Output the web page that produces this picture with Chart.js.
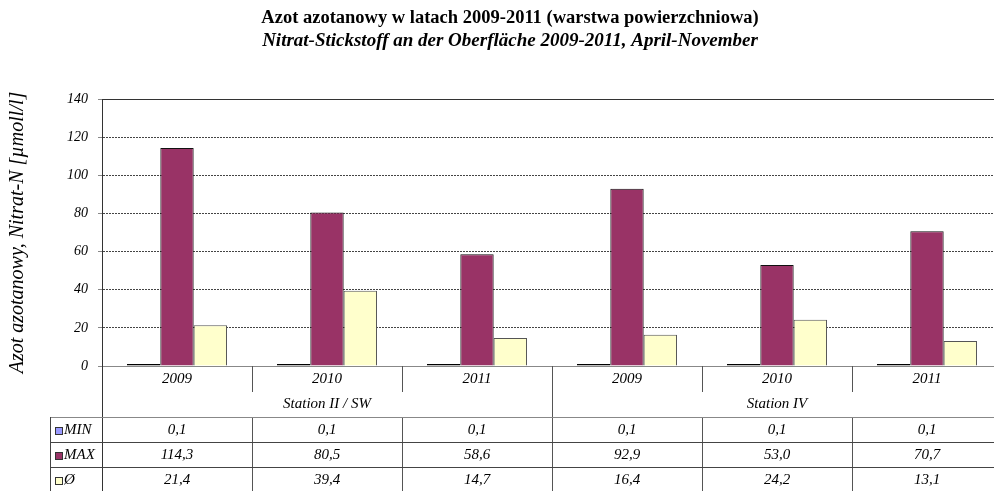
<!DOCTYPE html>
<html>
<head>
<meta charset="utf-8">
<script src="https://cdn.jsdelivr.net/npm/chart.js@4"></script>
<style>
    html, body { margin: 0; padding: 0; background: #fff; overflow: hidden; }
    #wrap { position: relative; width: 1020px; height: 491px; }
</style>
</head>
<body>
<div id="wrap"><canvas id="nitratChart"></canvas></div>
<script>
// Data
const years = ['2009', '2010', '2011', '2009', '2010', '2011'];
const stations = ['Station II / SW', 'Station IV'];
const minValues = [0.1, 0.1, 0.1, 0.1, 0.1, 0.1];
const maxValues = [114.3, 80.5, 58.6, 92.9, 53.0, 70.7];
const avgValues = [21.4, 39.4, 14.7, 16.4, 24.2, 13.1];
const seriesNames = ['MIN', 'MAX', 'Ø'];
const seriesColors = ['#9999FF', '#993366', '#FFFFCC'];
const yTicks = [0, 20, 40, 60, 80, 100, 120, 140];

const SERIF = '"Liberation Serif", "DejaVu Serif", serif';

// Row layout of the data table under the plot
const ROW_YEAR = 26;
const ROW_STATION = 25;
const ROW_DATA = 25;
const LEGEND_LEFT = 50;

function fmt(v) {
    return v.toFixed(1).replace('.', ',');
}

// Draws the frame, the year / station rows and the value table
const tablePlugin = {
    id: 'dataTable',
    afterDraw(chart) {
        const ctx = chart.ctx;
        const area = chart.chartArea;
        const x = chart.scales.x;
        const y = chart.scales.y;
        const n = years.length;
        const step = x.getPixelForValue(1) - x.getPixelForValue(0);
        const edge = i => x.getPixelForValue(0) - step / 2 + i * step;

        const yAxis = y.getPixelForValue(0);
        const yYear = yAxis + ROW_YEAR;
        const yStation = yYear + ROW_STATION;
        const bottom = chart.height;

        ctx.save();
        ctx.lineWidth = 1;

        // solid top of the plot
        ctx.strokeStyle = '#333';
        ctx.beginPath();
        ctx.moveTo(area.left, Math.round(y.getPixelForValue(140)) + 0.5);
        ctx.lineTo(area.right, Math.round(y.getPixelForValue(140)) + 0.5);
        ctx.stroke();

        // left border down through the table
        ctx.beginPath();
        ctx.moveTo(Math.round(area.left) + 0.5, area.top);
        ctx.lineTo(Math.round(area.left) + 0.5, bottom);
        ctx.stroke();

        // vertical separators
        ctx.strokeStyle = '#555';
        for (let i = 1; i < n; i++) {
            const px = Math.round(edge(i)) + 0.5;
            ctx.beginPath();
            if (i === 3) {
                ctx.moveTo(px, yAxis);
                ctx.lineTo(px, bottom);
            } else {
                ctx.moveTo(px, yAxis);
                ctx.lineTo(px, yYear);
                ctx.moveTo(px, yStation);
                ctx.lineTo(px, bottom);
            }
            ctx.stroke();
        }

        // horizontal table lines
        for (let r = 0; r < 3; r++) {
            const py = Math.round(yStation + r * ROW_DATA) + 0.5;
            ctx.strokeStyle = r === 0 ? '#888' : '#444';
            ctx.beginPath();
            ctx.moveTo(LEGEND_LEFT, py);
            ctx.lineTo(area.right, py);
            ctx.stroke();
        }
        ctx.strokeStyle = '#444';
        ctx.beginPath();
        ctx.moveTo(LEGEND_LEFT + 0.5, yStation);
        ctx.lineTo(LEGEND_LEFT + 0.5, bottom);
        ctx.stroke();

        // year labels
        ctx.fillStyle = '#000';
        ctx.textAlign = 'center';
        ctx.textBaseline = 'middle';
        ctx.font = 'italic 15px ' + SERIF;
        years.forEach((yr, i) => {
            ctx.fillText(yr, x.getPixelForValue(i), yAxis + ROW_YEAR / 2);
        });

        // station labels
        ctx.font = 'italic 15px ' + SERIF;
        stations.forEach((st, s) => {
            ctx.fillText(st, (edge(s * 3) + edge(s * 3 + 3)) / 2, yYear + ROW_STATION / 2);
        });

        // value rows with legend keys
        const rows = [minValues, maxValues, avgValues];
        rows.forEach((vals, r) => {
            const cy = yStation + r * ROW_DATA + ROW_DATA / 2 + 1;
            ctx.font = 'italic 15px ' + SERIF;
            ctx.textAlign = 'center';
            vals.forEach((v, i) => {
                ctx.fillText(fmt(v), x.getPixelForValue(i), cy);
            });
            ctx.fillStyle = seriesColors[r];
            ctx.fillRect(55, Math.round(cy) - 4, 8, 8);
            ctx.strokeStyle = '#333';
            ctx.strokeRect(55.5, Math.round(cy) - 3.5, 7, 7);
            ctx.fillStyle = '#000';
            ctx.textAlign = 'left';
            ctx.fillText(seriesNames[r], 64, cy);
        });

        ctx.restore();
    }
};

const chart = new Chart(document.getElementById('nitratChart'), {
    type: 'bar',
    data: {
        labels: years,
        datasets: [
            {
                label: seriesNames[0],
                data: minValues,
                backgroundColor: seriesColors[0],
                borderColor: '#000',
                borderWidth: 1,
                borderSkipped: false,
                minBarLength: 2
            },
            {
                label: seriesNames[1],
                data: maxValues,
                backgroundColor: seriesColors[1],
                borderColor: '#111',
                borderWidth: 1
            },
            {
                label: seriesNames[2],
                data: avgValues,
                backgroundColor: seriesColors[2],
                borderColor: '#555',
                borderWidth: 1
            }
        ]
    },
    options: {
        responsive: true,
        maintainAspectRatio: false,
        animation: false,
        datasets: {
            bar: { categoryPercentage: 0.667, barPercentage: 1.0 }
        },
        layout: {
            padding: { left: 0, right: 0, top: 0, bottom: 125 }
        },
        plugins: {
            legend: { display: false },
            tooltip: { enabled: false },
            title: {
                display: true,
                text: 'Azot azotanowy w latach 2009-2011 (warstwa powierzchniowa)',
                color: '#000',
                font: { family: SERIF, size: 18.5, weight: 'bold', lineHeight: 1.2 },
                padding: { top: 7, bottom: 0 }
            },
            subtitle: {
                display: true,
                text: 'Nitrat-Stickstoff an der Oberfläche 2009-2011, April-November',
                color: '#000',
                font: { family: SERIF, size: 19, weight: 'bold', style: 'italic', lineHeight: 1.2 },
                padding: { top: 0, bottom: 47 }
            }
        },
        scales: {
            x: {
                ticks: { display: false },
                grid: { display: false },
                border: { display: true, color: '#888', width: 1 },
                afterFit(scale) { scale.height = 0; }
            },
            y: {
                min: 0,
                max: 140,
                afterBuildTicks(scale) {
                    scale.ticks = yTicks.map(v => ({ value: v }));
                },
                afterFit(scale) { scale.width = 102; },
                ticks: {
                    color: '#000',
                    padding: 10,
                    font: { family: SERIF, size: 14, style: 'italic' }
                },
                grid: {
                    color: '#444',
                    lineWidth: 1,
                    drawTicks: true,
                    tickLength: 4,
                    tickColor: '#888',
                    tickBorderDash: []
                },
                border: { display: true, color: '#333', width: 1, dash: [2, 1] },
                title: {
                    display: true,
                    text: 'Azot azotanowy, Nitrat-N [µmoll/l]',
                    color: '#000',
                    font: { family: SERIF, size: 20, style: 'italic', lineHeight: 1.2 },
                    padding: { top: 6, bottom: 0 }
                }
            },
            // empty right-hand box so the plot ends past the window edge
            yRight: {
                position: 'right',
                min: 0,
                max: 140,
                ticks: { display: false },
                grid: { display: false, drawOnChartArea: false },
                border: { display: false },
                afterFit(scale) { scale.width = 18; }
            }
        }
    },
    plugins: [tablePlugin]
});
</script>
</body>
</html>
